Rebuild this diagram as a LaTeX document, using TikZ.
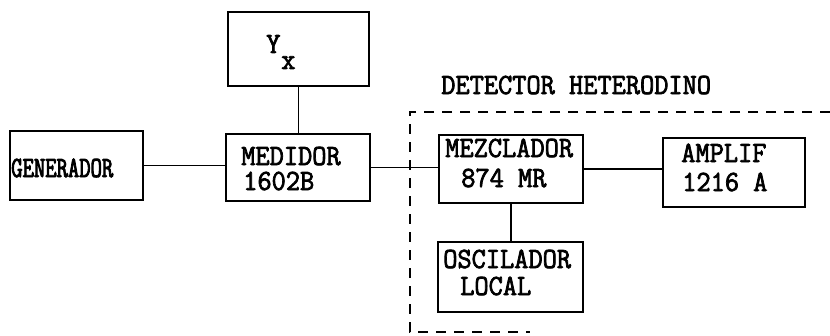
\documentclass[tikz,border=0pt]{standalone}
\usepackage{fontspec}
\newfontfamily\tw[FakeStretch=0.94,FakeBold=2.5]{Latin Modern Mono}
\newfontfamily\twn[FakeStretch=0.75,FakeBold=3]{Latin Modern Mono}
\begin{document}
\begin{tikzpicture}[x=0.75pt,y=-0.75pt,
  box/.style={draw,line width=1.1pt,inner sep=0pt,minimum width=#1},
  txt/.style={anchor=base west,inner sep=0pt,text height=13.5pt,text depth=0.5pt,font=\tw\fontsize{22}{24}\selectfont},
  txtn/.style={anchor=base west,inner sep=0pt,text height=13.5pt,text depth=0.5pt,font=\twn\fontsize{22}{24}\selectfont},
  conn/.style={line width=0.9pt},
  dashline/.style={line width=0.9pt,dash pattern=on 7.5pt off 6pt}]
\useasboundingbox (0,0) rectangle (830,335);
% boxes
\node[box=141*0.75pt,minimum height=74*0.75pt] (yx) at (298.5,49) {};
\node[box=133*0.75pt,minimum height=69*0.75pt] (gen) at (76.5,165.5) {};
\node[box=144*0.75pt,minimum height=67*0.75pt] (med) at (298,167.5) {};
\node[box=144*0.75pt,minimum height=68*0.75pt] (mez) at (511,169) {};
\node[box=142*0.75pt,minimum height=69*0.75pt] (amp) at (734,172.5) {};
\node[box=145*0.75pt,minimum height=70*0.75pt] (osc) at (510.5,277) {};
% texts
\node[txt] (ty) at (266,53) {Y};
\node[txt,text height=9pt] (tx) at (281,69) {x};
\node[txtn] (tgen) at (11,177) {GENERADOR};
\node[txt] (tmed1) at (241,165) {MEDIDOR};
\node[txt] (tmed2) at (243,190) {1602B};
\node[txt] (tdet) at (441,94) {DETECTOR HETERODINO};
\node[txt] (tmez1) at (445,157) {MEZCLADOR};
\node[txt] (tmez2) at (461,187) {874 MR};
\node[txt] (tamp1) at (681,162) {AMPLIF};
\node[txt] (tamp2) at (682,191) {1216 A};
\node[txt] (tosc1) at (443,268) {OSCILADOR};
\node[txt] (tosc2) at (460,295) {LOCAL};
% connectors
\draw[conn] (yx.south) -- (yx.south |- med.north);
\draw[conn] (gen.east) -- (gen.east -| med.west);
\draw[conn] (med.east) -- (med.east -| mez.west);
\draw[conn] (mez.east) -- (mez.east -| amp.west);
\draw[conn] (mez.south) -- (mez.south |- osc.north);
% dashed enclosure
\coordinate (dtr) at (830,112);
\coordinate (dtl) at (410,112);
\coordinate (dbl) at (410,332);
\coordinate (dbr) at (530,332);
\draw[dashline] (dtr) -- (dtl) -- (dbl) -- (dbr);
\end{tikzpicture}
\end{document}
